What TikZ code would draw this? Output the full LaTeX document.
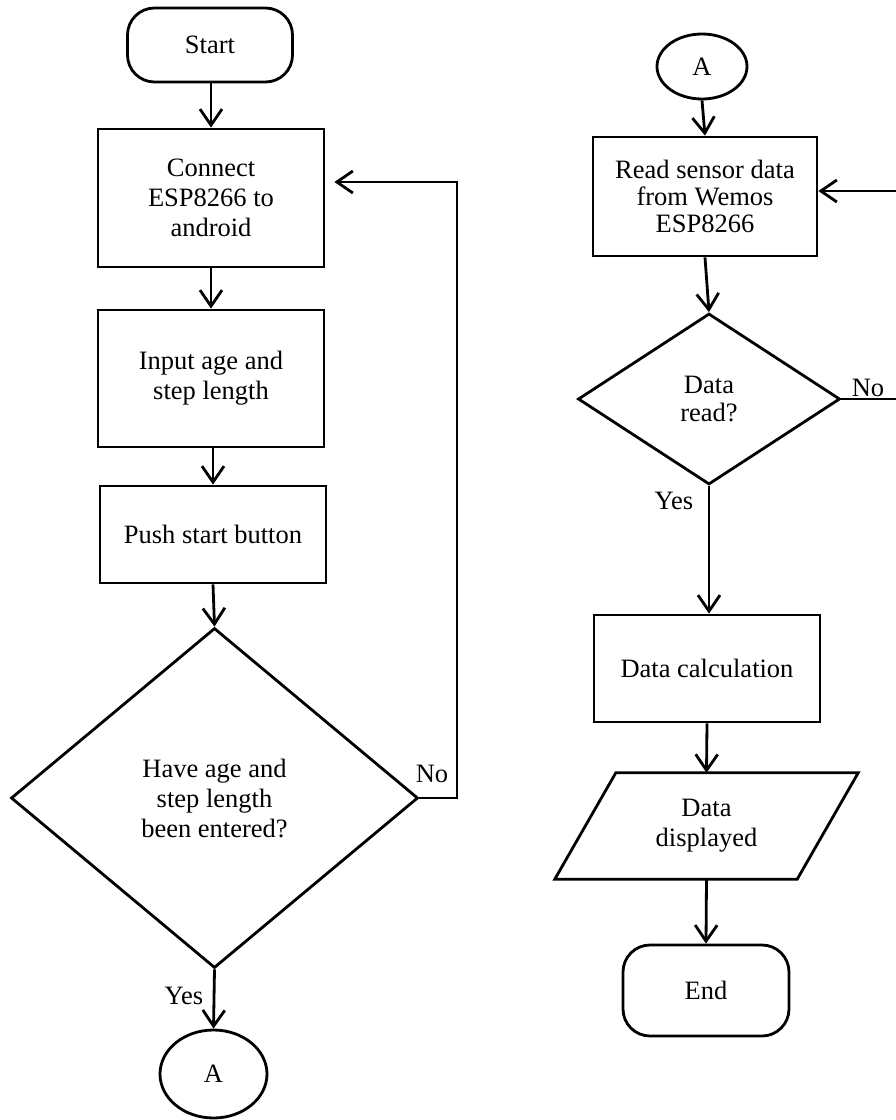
\documentclass[tikz,border=0pt]{standalone}
\usepackage{fontspec}
\setmainfont{Liberation Serif}
\usetikzlibrary{shapes.geometric,arrows.meta,calc}
\begin{document}
\begin{tikzpicture}[x=1pt,y=-1pt,
  every node/.style={font=\fontsize{26.5}{30}\selectfont, align=center, inner sep=0pt},
  ln/.style={line width=2.8pt, line join=miter},
  arr/.style={ln, -{Straight Barb[length=16pt,width=22pt]}},
  termbox/.style={ln, draw, rectangle, rounded corners=27pt},
  procbox/.style={ln, draw, rectangle},
  decbox/.style={ln, draw, diamond},
  conbox/.style={ln, draw, ellipse},
  iobox/.style={rectangle, minimum width=242pt, minimum height=106pt},
  lbl/.style={font=\fontsize{26.5}{30}\selectfont}
]
\useasboundingbox (0,0) rectangle (896,1120);
\clip (0,0) rectangle (896,1120);
\fill[white] (0,0) rectangle (896,1120);

% left column
\node[termbox, minimum width=165pt, minimum height=74pt] (start) at (210,45) {Start};
\node[procbox, minimum width=226pt, minimum height=138pt] (connect) at (211,198) {Connect\\ESP8266 to\\android};
\node[procbox, minimum width=226pt, minimum height=137pt] (input) at (211,378.5) {Input age and\\step length};
\node[procbox, minimum width=226pt, minimum height=97pt] (push) at (213,534.5) {Push start button};
\node[decbox, minimum width=407pt, minimum height=340pt] (dec1) at (214.5,798) {Have age and\\step length\\been entered?};
\node[conbox, minimum width=107pt, minimum height=88pt] (a1) at (213.5,1074) {A};

% right column
\node[conbox, minimum width=90pt, minimum height=65pt] (a2) at (702,66.5) {A};
\node[procbox, minimum width=224pt, minimum height=119pt, font=\fontsize{26.5}{27}\selectfont] (read) at (705,196.5) {Read sensor data\\from Wemos\\ESP8266};
\node[decbox, minimum width=262pt, minimum height=171pt, font=\fontsize{26.5}{28}\selectfont] (dec2) at (709,399) {Data\\read?};
\node[procbox, minimum width=226pt, minimum height=107pt] (calc) at (707,668.5) {Data calculation};
\node[iobox] (disp) at (706.5,826) {Data\\displayed};
\draw[ln] ([xshift=30.5pt]disp.north west) -- ([xshift=30.5pt]disp.north east)
  -- ([xshift=-30.5pt]disp.south east) -- ([xshift=-30.5pt]disp.south west) -- cycle;
\node[termbox, minimum width=166pt, minimum height=91pt] (end) at (706,990.5) {End};

% labels
\node[lbl] (no1) at (432,774) {No};
\node[lbl] (yes1) at (184,996) {Yes};
\node[lbl] (no2) at (868,388) {No};
\node[lbl] (yes2) at (674,501) {Yes};

% loop coordinates
\coordinate (lp1) at (457,182);
\coordinate (lp2) at (910,191);

% connectors left
\draw[arr] (start.south -| connect.north) -- (connect.north);
\draw[arr] (connect.south) -- (input.north);
\draw[arr] (push.north |- input.south) -- (push.north);
\draw[arr] (push.south) -- (dec1.north);
\draw[arr] (dec1.south) -- (a1.north);
\draw[arr] (dec1.east) -| (lp1) -- ([xshift=9pt]connect.east |- lp1);

% connectors right
\draw[arr] (a2.south) -- (read.north);
\draw[arr] (read.south) -- (dec2.north);
\draw[arr] (dec2.south) -- (dec2.south |- calc.north);
\draw[arr] (calc.south) -- (disp.north);
\draw[arr] (disp.south) -- (end.north);
\draw[arr] (dec2.east) -| (lp2) -- (read.east |- lp2);
\end{tikzpicture}
\end{document}
